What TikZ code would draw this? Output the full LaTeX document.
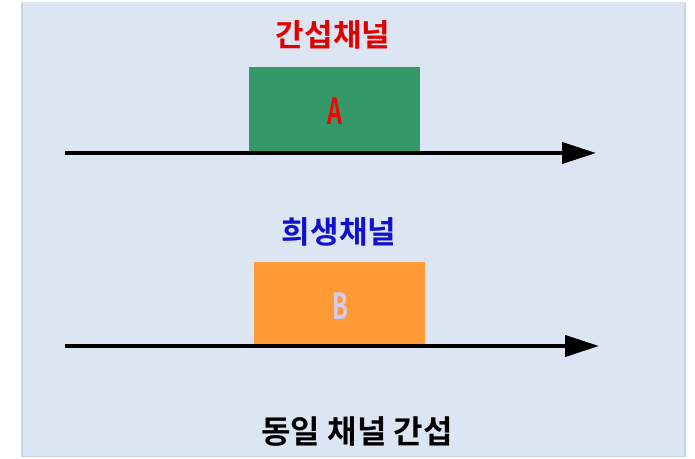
\documentclass[tikz,border=0pt]{standalone}
\usepackage{fontspec}
\newfontfamily\kr{Noto Sans CJK KR}[BoldFont={Noto Sans CJK KR Bold}]
\usetikzlibrary{arrows.meta}
\definecolor{bgblue}{HTML}{DCE6F2}
\definecolor{bgedge}{HTML}{C5D4EC}
\definecolor{boxgreen}{HTML}{359868}
\definecolor{boxorange}{HTML}{FF9A35}
\definecolor{titlered}{HTML}{E00000}
\definecolor{titleblue}{HTML}{1010D0}
\definecolor{lavender}{HTML}{D0CCF4}
\newcommand{\narrowtxt}[1]{\scalebox{0.65}[1]{#1}}
\tikzset{
  title/.style={font=\kr\bfseries\fontsize{31}{34}\selectfont, inner sep=0pt},
  bigtitle/.style={font=\kr\bfseries\fontsize{32}{35}\selectfont, inner sep=0pt},
  chanbox/.style={minimum width=171pt, inner sep=0pt},
  letter/.style={inner sep=0pt, font=\kr\bfseries\fontsize{36}{38}\selectfont}
}
\tikzset{axis/.style={line width=4pt, -{Triangle[length=34pt,width=21pt]}}}
\begin{document}
\begin{tikzpicture}[x=1pt,y=-1pt]
\useasboundingbox (0,0) rectangle (695,458);
\fill[bgblue] (21,2) rectangle (686,457);
\draw[bgedge,line width=2pt] (22,3) -- (22,456);
\draw[bgedge,line width=2pt] (685,3) -- (685,456);
\draw[bgedge,line width=1pt] (21,456.5) -- (686,456.5);

\node[title, text=titlered] (t1) at (333,35) {간섭채널};
\node[chanbox, fill=boxgreen, minimum height=85pt, anchor=north west] (A) at (249,67) {};
\node[letter, text=red] (Alabel) at (335,111) {\narrowtxt{A}};
\coordinate (a1s) at (65,153);
\coordinate (a1e) at (596,153);
\draw[axis] (a1s) -- (a1e);

\node[title, text=titleblue] (t2) at (339,232) {희생채널};
\node[chanbox, fill=boxorange, minimum height=82pt, anchor=north west] (B) at (254,262) {};
\node[letter, text=lavender] (Blabel) at (340,306) {\narrowtxt{B}};
\coordinate (a2s) at (65,346);
\coordinate (a2e) at (599,346);
\draw[axis] (a2s) -- (a2e);

\node[bigtitle, text=black] (t3) at (357,432) {동일 채널 간섭};
\end{tikzpicture}
\end{document}
